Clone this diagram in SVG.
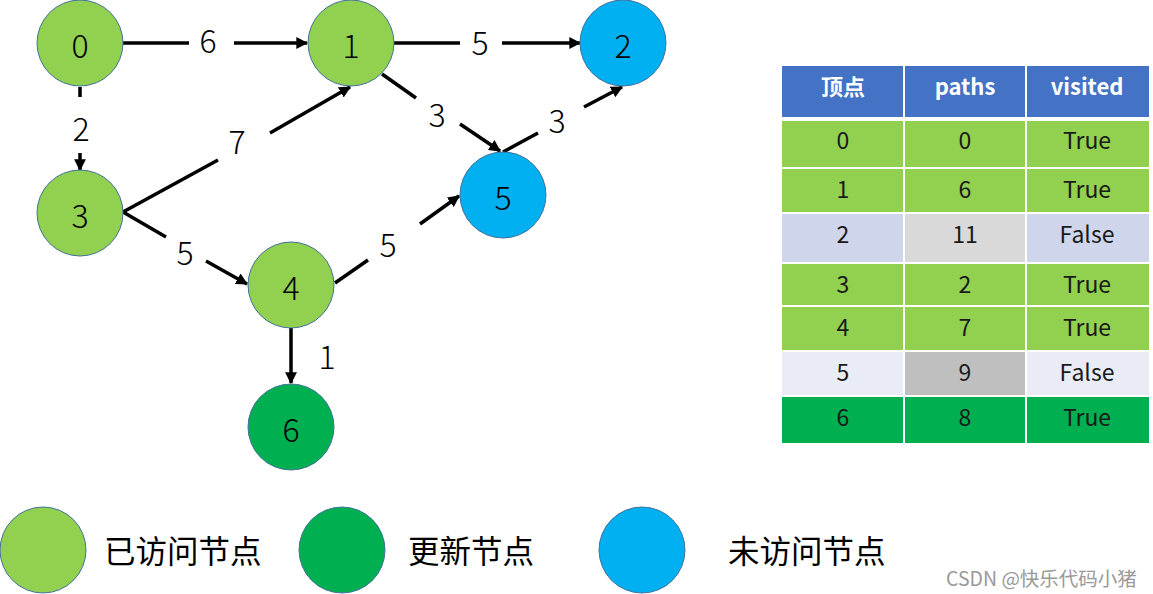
<svg xmlns="http://www.w3.org/2000/svg" width="1153" height="594" viewBox="0 0 1153 594">
<style>
.n{stroke:#41719C;stroke-width:1}
.g{fill:#92D050}.dg{fill:#00B050}.b{fill:#00B0F0}
.t{font-family:"Noto Sans CJK SC","Liberation Sans",sans-serif;font-weight:300;font-size:32px;fill:#000;text-anchor:middle;dominant-baseline:central}
.e{stroke:#000;stroke-width:3.5;fill:none}
.th{font-family:"Noto Sans CJK SC","Liberation Sans",sans-serif;font-weight:bold;font-size:22px;fill:#fff;text-anchor:middle;dominant-baseline:central}
.td{font-family:"Noto Sans CJK SC","Liberation Sans",sans-serif;font-size:23px;fill:#1a1a1a;text-anchor:middle;dominant-baseline:central}
.lg{font-family:"Noto Sans CJK SC","Liberation Sans",sans-serif;font-size:31.5px;fill:#000;dominant-baseline:central}
.c{stroke:#fff;stroke-width:2}
</style>
<defs>
<marker id="ah" viewBox="0 0 10 10" refX="9" refY="5" markerWidth="3.4" markerHeight="3.4" orient="auto" markerUnits="strokeWidth">
<path d="M0,0 L10,5 L0,10 z" fill="#000"/>
</marker>
</defs>
<rect width="1153" height="594" fill="#fff"/>
<g id="connectors">
<g id="e01"><path class="e" d="M123,43 H189"/><path class="e" d="M234,43 H307" marker-end="url(#ah)"/><text class="t" x="208" y="39">6</text></g>
<g id="e12"><path class="e" d="M394,43 H460"/><path class="e" d="M502,43 H580" marker-end="url(#ah)"/><text class="t" x="480" y="41">5</text></g>
<g id="e03"><path class="e" d="M80,87 V97"/><path class="e" d="M80,153 V170" marker-end="url(#ah)"/><text class="t" x="81" y="127">2</text></g>
<g id="e31"><path class="e" d="M123,212 L218,160"/><path class="e" d="M270,133 L350,87" marker-end="url(#ah)"/><text class="t" x="237" y="140">7</text></g>
<g id="e15"><path class="e" d="M382,74 L416,98"/><path class="e" d="M460,124 L500,151" marker-end="url(#ah)"/><text class="t" x="437" y="113">3</text></g>
<g id="e52"><path class="e" d="M503,152 L538,133"/><path class="e" d="M584,107 L622,87" marker-end="url(#ah)"/><text class="t" x="557" y="119">3</text></g>
<g id="e34"><path class="e" d="M123,212 L166,237"/><path class="e" d="M206,261 L247,284" marker-end="url(#ah)"/><text class="t" x="185" y="251">5</text></g>
<g id="e45"><path class="e" d="M335,283 L368,260"/><path class="e" d="M420,224 L459,196" marker-end="url(#ah)"/><text class="t" x="388" y="243">5</text></g>
<g id="e46"><path class="e" d="M291,328 V383" marker-end="url(#ah)"/><text class="t" x="327" y="355">1</text></g>
</g>
<g id="n0"><circle class="n g" cx="80" cy="43" r="43"/><text class="t" x="80" y="44">0</text></g>
<g id="n1"><circle class="n g" cx="351" cy="43" r="43"/><text class="t" x="351" y="44">1</text></g>
<g id="n2"><circle class="n b" cx="623" cy="43" r="43"/><text class="t" x="623" y="44">2</text></g>
<g id="n3"><circle class="n g" cx="80" cy="213" r="43"/><text class="t" x="80" y="214">3</text></g>
<g id="n4"><circle class="n g" cx="291" cy="285" r="43"/><text class="t" x="291" y="286">4</text></g>
<g id="n5"><circle class="n b" cx="503" cy="195" r="43"/><text class="t" x="503" y="196">5</text></g>
<g id="n6"><circle class="n dg" cx="291" cy="427" r="43"/><text class="t" x="291" y="428">6</text></g>
<g id="table">
<rect x="782" y="66" width="367" height="51" fill="#4472C4"/>
<path class="c" d="M904,66 V117 M1026,66 V117"/>
<text class="th" x="843" y="85">顶点</text><text class="th" x="965" y="85">paths</text><text class="th" x="1087" y="85">visited</text>
<rect x="782" y="121" width="367" height="47" fill="#92D050"/>
<rect x="782" y="168" width="367" height="45" fill="#92D050"/>
<rect x="782" y="213" width="367" height="50" fill="#CFD5EA"/>
<rect x="904" y="213" width="122" height="50" fill="#D9D9D9"/>
<rect x="782" y="263" width="367" height="43" fill="#92D050"/>
<rect x="782" y="306" width="367" height="45" fill="#92D050"/>
<rect x="782" y="351" width="367" height="45" fill="#E9EBF5"/>
<rect x="904" y="351" width="122" height="45" fill="#BFBFBF"/>
<rect x="782" y="396" width="367" height="47" fill="#00B050"/>
<path class="c" d="M904,121 V443 M1026,121 V443 M782,168 H1149 M782,213 H1149 M782,263 H1149 M782,306 H1149 M782,351 H1149 M782,396 H1149"/>
<text class="td" x="843" y="139">0</text><text class="td" x="965" y="139">0</text><text class="td" x="1087" y="139">True</text>
<text class="td" x="843" y="188">1</text><text class="td" x="965" y="188">6</text><text class="td" x="1087" y="188">True</text>
<text class="td" x="843" y="233">2</text><text class="td" x="965" y="233">11</text><text class="td" x="1087" y="233">False</text>
<text class="td" x="843" y="283">3</text><text class="td" x="965" y="283">2</text><text class="td" x="1087" y="283">True</text>
<text class="td" x="843" y="326">4</text><text class="td" x="965" y="326">7</text><text class="td" x="1087" y="326">True</text>
<text class="td" x="843" y="371">5</text><text class="td" x="965" y="371">9</text><text class="td" x="1087" y="371">False</text>
<text class="td" x="843" y="416">6</text><text class="td" x="965" y="416">8</text><text class="td" x="1087" y="416">True</text>
</g>
<g id="legend">
<g id="lg1"><circle class="n g" cx="43" cy="550" r="43"/><text class="lg" x="104" y="549">已访问节点</text></g>
<g id="lg2"><circle class="n dg" cx="342" cy="550" r="43"/><text class="lg" x="408" y="549">更新节点</text></g>
<g id="lg3"><circle class="n b" cx="642" cy="550" r="43"/><text class="lg" x="728" y="549">未访问节点</text></g>
</g>
<text x="946" y="577" font-family="Noto Sans CJK SC, Liberation Sans, sans-serif" font-size="19.5" fill="#999" dominant-baseline="central">CSDN @快乐代码小猪</text>
</svg>
